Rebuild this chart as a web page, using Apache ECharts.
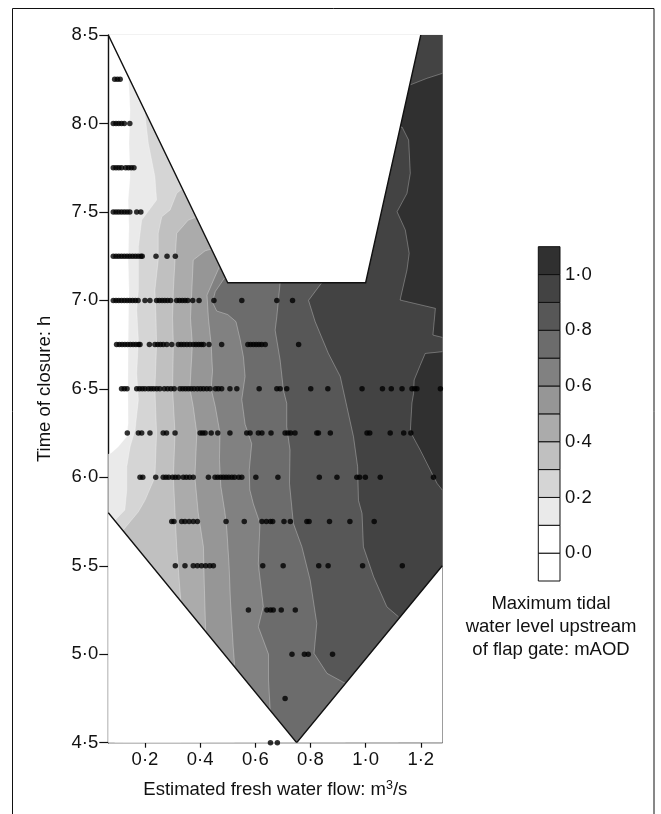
<!DOCTYPE html>
<html><head><meta charset="utf-8">
<script src="https://cdn.jsdelivr.net/npm/echarts@6/dist/echarts.min.js"></script>
<style>html,body{margin:0;padding:0;background:#fff}#c{width:661px;height:814px}</style>
</head><body><div id="c"></div>
<script>
// ---- axis extents / tick labels ----
const XMIN = 0.067, XMAX = 1.278, YMIN = 4.5, YMAX = 8.5;
const xTickValues = [0.2, 0.4, 0.6, 0.8, 1.0, 1.2];
const legendTickValues = [0.0, 0.2, 0.4, 0.6, 0.8, 1.0];
const legendLevels = [-0.1, 0.0, 0.1, 0.2, 0.3, 0.4, 0.5, 0.6, 0.7, 0.8, 0.9, 1.0, 1.1];
const levelColors = ['#ffffff','#ffffff','#eaeaea','#d5d5d5','#c0c0c0','#ababab','#969696','#818181','#6c6c6c','#575757','#434343','#303030'];

// ---- domain of the model runs ----
const domainTop = [[XMIN,8.5],[0.5,7.1],[1.0,7.1],[1.2,8.5]];
const domainBottom = [[XMIN,5.8],[0.75,4.5],[XMAX,5.5]];

// ---- contour lines (value = 0.1 ... 1.0) ----
const c01 = [[0.14,8.264],[0.146,8.076],[0.142,7.888],[0.146,7.699],[0.139,7.567],[0.142,7.416],[0.139,7.228],[0.142,7.058],[0.14,6.9],[0.139,6.75],[0.138,6.5],[0.139,6.305],[0.134,6.23],[0.103,6.173],[0.078,6.138],[XMIN,6.13]];
const c02 = [[0.198,8.076],[0.212,7.888],[0.236,7.699],[0.242,7.567],[0.188,7.454],[0.176,7.303],[0.176,7.058],[0.17,6.945],[0.176,6.776],[0.17,6.588],[0.176,6.437],[0.164,6.267],[0.146,6.173],[0.134,6.06],[0.134,5.928],[0.127,5.815],[0.09,5.756]];
const c03 = [[0.336,7.633],[0.315,7.605],[0.291,7.511],[0.261,7.473],[0.248,7.379],[0.248,7.228],[0.236,7.058],[0.24,6.9],[0.242,6.75],[0.236,6.5],[0.242,6.25],[0.236,6.0],[0.2,5.87],[0.176,5.805],[0.12,5.70]];
const c04 = [[0.385,7.47],[0.357,7.454],[0.315,7.379],[0.309,7.228],[0.303,7.058],[0.3,6.9],[0.303,6.75],[0.3,6.5],[0.309,6.25],[0.303,6.0],[0.309,5.8],[0.315,5.607],[0.325,5.4],[0.33,5.30]];
const c05 = [[0.44,7.29],[0.418,7.28],[0.375,7.228],[0.37,7.06],[0.365,6.9],[0.372,6.75],[0.363,6.5],[0.375,6.4],[0.388,6.25],[0.381,6.0],[0.393,5.8],[0.412,5.607],[0.415,5.4],[0.42,5.13]];
const c06 = [[0.47,7.19],[0.45,7.12],[0.425,7.03],[0.43,6.9],[0.44,6.75],[0.445,6.6],[0.44,6.5],[0.455,6.4],[0.472,6.25],[0.47,6.1],[0.475,5.95],[0.49,5.8],[0.497,5.7],[0.505,5.5],[0.51,5.3],[0.52,5.04],[0.525,4.94]];
const c07 = [[0.49,7.13],[0.455,7.05],[0.445,6.99],[0.46,6.94],[0.5,6.92],[0.53,6.88],[0.545,6.78],[0.557,6.68],[0.563,6.57],[0.551,6.44],[0.563,6.3],[0.587,6.19],[0.578,6.04],[0.58,5.93],[0.593,5.85],[0.617,5.74],[0.611,5.51],[0.629,5.27],[0.611,5.155],[0.629,5.08],[0.648,5.0],[0.648,4.854],[0.654,4.684]];
const c08 = [[0.69,7.1],[0.678,6.907],[0.672,6.832],[0.69,6.663],[0.702,6.493],[0.714,6.418],[0.714,6.286],[0.726,6.154],[0.724,5.966],[0.738,5.74],[0.769,5.607],[0.799,5.419],[0.823,5.174],[0.813,5.005],[0.86,4.892],[0.927,4.835]];
const c09 = [[0.841,7.1],[0.793,7.0],[0.817,6.88],[0.865,6.70],[0.908,6.57],[0.932,6.4],[0.956,6.23],[0.971,6.06],[0.974,5.87],[0.987,5.796],[0.992,5.607],[1.029,5.438],[1.077,5.268],[1.119,5.212]];
const c10a = [[1.16,8.217],[1.222,8.255],[XMAX,8.283]];
const c10b = [[1.126,7.98],[1.132,7.98],[1.156,7.906],[1.162,7.718],[1.15,7.605],[1.114,7.501],[1.144,7.398],[1.158,7.266],[1.15,7.172],[1.125,7.002],[1.253,6.955],[1.244,6.804],[XMAX,6.791]];
const c10c = [[XMAX,6.71],[1.216,6.70],[1.198,6.634],[1.176,6.55],[1.174,6.475],[1.168,6.42],[1.162,6.258],[1.198,6.154],[1.259,5.966],[XMAX,5.928]];

// ---- model runs (dots): time of closure rows and flows ----
const rowY = [8.25, 8.0, 7.75, 7.5, 7.25, 7.0, 6.75, 6.5, 6.25, 6.0, 5.75, 5.5, 5.25, 5.0, 4.75, 4.5];
const r825 = [0.09, 0.1, 0.11];
const r800 = [0.085, 0.095, 0.105, 0.115, 0.125, 0.145];
const r775 = [0.085, 0.095, 0.105, 0.115, 0.13, 0.14, 0.15, 0.16];
const r750 = [0.085, 0.095, 0.105, 0.115, 0.125, 0.135, 0.145, 0.17, 0.185];
const r725 = [0.085, 0.095, 0.105, 0.115, 0.125, 0.135, 0.145, 0.155, 0.165, 0.175, 0.185, 0.19, 0.24, 0.28, 0.31];
const r700 = [0.085, 0.095, 0.105, 0.115, 0.125, 0.135, 0.145, 0.155, 0.165, 0.175, 0.2, 0.218, 0.242, 0.252, 0.262, 0.272, 0.282, 0.293, 0.315, 0.325, 0.335, 0.345, 0.355, 0.373, 0.396, 0.45, 0.551, 0.678, 0.735];
const r675 = [0.097, 0.107, 0.117, 0.127, 0.137, 0.147, 0.157, 0.167, 0.177, 0.182, 0.216, 0.236, 0.246, 0.256, 0.266, 0.279, 0.297, 0.321, 0.331, 0.341, 0.352, 0.363, 0.375, 0.385, 0.395, 0.404, 0.412, 0.432, 0.478, 0.573, 0.583, 0.593, 0.603, 0.613, 0.623, 0.636, 0.757];
const r650 = [0.115, 0.125, 0.135, 0.17, 0.18, 0.19, 0.2, 0.212, 0.222, 0.232, 0.243, 0.254, 0.27, 0.282, 0.294, 0.306, 0.327, 0.337, 0.347, 0.357, 0.367, 0.378, 0.39, 0.401, 0.412, 0.424, 0.436, 0.456, 0.466, 0.478, 0.508, 0.533, 0.614, 0.678, 0.69, 0.714, 0.801, 0.863, 0.987, 1.061, 1.093, 1.132, 1.168, 1.178, 1.186, 1.271];
const r625 = [0.136, 0.176, 0.188, 0.218, 0.266, 0.278, 0.309, 0.4, 0.409, 0.418, 0.44, 0.464, 0.508, 0.569, 0.581, 0.611, 0.624, 0.657, 0.708, 0.718, 0.728, 0.744, 0.823, 0.829, 0.872, 1.005, 1.015, 1.089, 1.138, 1.164];
const r600 = [0.182, 0.192, 0.239, 0.266, 0.276, 0.286, 0.3, 0.31, 0.321, 0.339, 0.35, 0.362, 0.375, 0.43, 0.454, 0.464, 0.474, 0.484, 0.494, 0.504, 0.515, 0.525, 0.54, 0.551, 0.602, 0.682, 0.832, 0.896, 0.968, 0.978, 0.999, 1.053, 1.246];
const r575 = [0.297, 0.305, 0.333, 0.345, 0.36, 0.375, 0.39, 0.494, 0.56, 0.624, 0.64, 0.655, 0.663, 0.704, 0.727, 0.787, 0.795, 0.869, 0.943, 1.031];
const r550 = [0.31, 0.345, 0.375, 0.39, 0.405, 0.42, 0.435, 0.448, 0.627, 0.701, 0.83, 0.864, 0.989, 1.133];
const r525 = [0.575, 0.642, 0.655, 0.665, 0.694, 0.745];
const r500 = [0.733, 0.778, 0.792, 0.88];
const r475 = [0.708];
const r450 = [0.655, 0.68];
const rowX = [r825, r800, r775, r750, r725, r700, r675, r650, r625, r600, r575, r550, r525, r500, r475, r450];

// ---- build ----
const fmt = v => (Math.round(v * 10) / 10).toFixed(1).replace('.', '\u00B7');
const FONT = 'Liberation Sans, Arial, Helvetica, sans-serif';
const TXT = '#111';
const FS = 18.5;

function regionRightOf(c) {
  const f = c[0], l = c[c.length - 1];
  return [[f[0], YMAX]].concat(c, [[l[0], YMIN], [XMAX, YMIN], [XMAX, YMAX]]);
}
function polySeries(pts, fill, z) {
  return { type: 'custom', silent: true, z: z, xAxisIndex: 0, yAxisIndex: 0, clip: true,
    data: [pts[0]],
    renderItem: (p, api) => ({ type: 'polygon', shape: { points: pts.map(q => api.coord(q)) },
      style: { fill: fill, stroke: null } }) };
}
function lineSeries(pts, stroke, w, z) {
  return { type: 'custom', silent: true, z: z, xAxisIndex: 0, yAxisIndex: 0, clip: true,
    data: [pts[0]],
    renderItem: (p, api) => ({ type: 'polyline', shape: { points: pts.map(q => api.coord(q)) },
      style: { stroke: stroke, lineWidth: w, fill: null } }) };
}

const contours = [c01, c02, c03, c04, c05, c06, c07, c08, c09];
const series = [];
contours.forEach((c, i) => series.push(polySeries(regionRightOf(c), levelColors[i + 2], 1)));
const r1 = [[1.0, c10a[0][1]]].concat(c10a, [[XMAX, c10b[c10b.length - 1][1]]], c10b.slice().reverse(), [[1.0, c10b[0][1]]]);
series.push(polySeries(r1, levelColors[11], 1));
series.push(polySeries(c10c, levelColors[11], 1));
contours.concat([c10a, c10b, c10c]).forEach(c => series.push(lineSeries(c, 'rgba(255,255,255,0.32)', 0.9, 2)));
// white outside the sampled domain
series.push(polySeries(domainTop, '#ffffff', 3));
series.push(polySeries([domainBottom[0], domainBottom[1], [XMIN, YMIN]], '#ffffff', 3));
series.push(polySeries([domainBottom[1], domainBottom[2], [XMAX, YMIN]], '#ffffff', 3));
series.push(lineSeries(domainTop, '#111', 1.4, 4));
series.push(lineSeries(domainBottom, '#111', 1.4, 4));
// dots
const dots = [];
rowY.forEach((y, i) => rowX[i].forEach(x => dots.push([x, y])));
series.push({ type: 'scatter', xAxisIndex: 0, yAxisIndex: 0, z: 5, silent: true, clip: false,
  symbolSize: 5.5, itemStyle: { color: '#000' }, data: dots });
// colour key
const keyData = legendLevels.slice(0, -1).map((lo, i) => [lo, legendLevels[i + 1], i]);
series.push({ type: 'custom', xAxisIndex: 1, yAxisIndex: 1, z: 5, silent: true, data: keyData,
  renderItem: (p, api) => {
    const lo = api.value(0), hi = api.value(1), i = api.value(2);
    const a = api.coord([0, hi]), b = api.coord([1, lo]);
    return { type: 'rect', shape: { x: a[0], y: a[1], width: b[0] - a[0], height: b[1] - a[1] },
      style: { fill: levelColors[i], stroke: '#111', lineWidth: 1 } };
  } });

const chart = echarts.init(document.getElementById('c'), null, { renderer: 'canvas' });
chart.setOption({
  animation: false,
  backgroundColor: '#fff',
  textStyle: { fontFamily: FONT },
  grid: [
    { left: 108.3, right: 661 - 442.3, top: 35, bottom: 814 - 742.7, show: true, borderColor: '#e4e4e4', borderWidth: 1, backgroundColor: 'transparent' },
    { left: 538.3, width: 21.7, top: 246.7, height: 334.3 }
  ],
  xAxis: [
    { type: 'value', gridIndex: 0, min: XMIN, max: XMAX,
      name: 'Estimated fresh water flow: m{sup|3}/s', nameLocation: 'middle', nameGap: 36,
      nameTextStyle: { fontSize: FS, color: TXT, fontFamily: FONT, lineHeight: 22,
        rich: { sup: { fontSize: 12.5, color: TXT, fontFamily: FONT, verticalAlign: 'top', lineHeight: 22 } } },
      axisLine: { show: true, onZero: false, lineStyle: { color: '#111', width: 1.4 } },
      axisTick: { show: true, length: 5, customValues: xTickValues, lineStyle: { color: '#111', width: 1.2 } },
      axisLabel: { customValues: xTickValues, formatter: fmt, fontSize: FS, color: TXT, margin: 8, fontFamily: FONT },
      splitLine: { show: false } },
    { type: 'value', gridIndex: 1, min: 0, max: 1, show: false }
  ],
  yAxis: [
    { type: 'value', gridIndex: 0, min: YMIN, max: YMAX, interval: 0.5,
      name: 'Time of closure: h', nameLocation: 'middle', nameGap: 54, nameRotate: 90,
      nameTextStyle: { fontSize: FS, color: TXT, fontFamily: FONT },
      axisLine: { show: true, onZero: false, lineStyle: { color: '#111', width: 1.4 } },
      axisTick: { show: true, length: 9, lineStyle: { color: '#111', width: 1.2 } },
      axisLabel: { formatter: fmt, fontSize: FS, color: TXT, margin: 10, fontFamily: FONT },
      splitLine: { show: false } },
    { type: 'value', gridIndex: 1, min: -0.1, max: 1.1, position: 'right',
      axisLine: { show: false },
      axisTick: { show: true, length: 4, customValues: legendTickValues, lineStyle: { color: '#111', width: 1 } },
      axisLabel: { customValues: legendTickValues, formatter: fmt, fontSize: FS, color: TXT, margin: 5, fontFamily: FONT },
      splitLine: { show: false } }
  ],
  graphic: [
    { type: 'rect', silent: true, z: 100, shape: { x: 12.5, y: 8.5, width: 641.5, height: 830 },
      style: { fill: null, stroke: '#111', lineWidth: 1 } },
    { type: 'text', silent: true, z: 100, x: 551, y: 592,
      style: { text: 'Maximum tidal\nwater level upstream\nof flap gate: mAOD', textAlign: 'center', textVerticalAlign: 'top',
        fontSize: FS, lineHeight: 23, fill: TXT, fontFamily: FONT } }
  ],
  series: series
});
</script></body></html>
